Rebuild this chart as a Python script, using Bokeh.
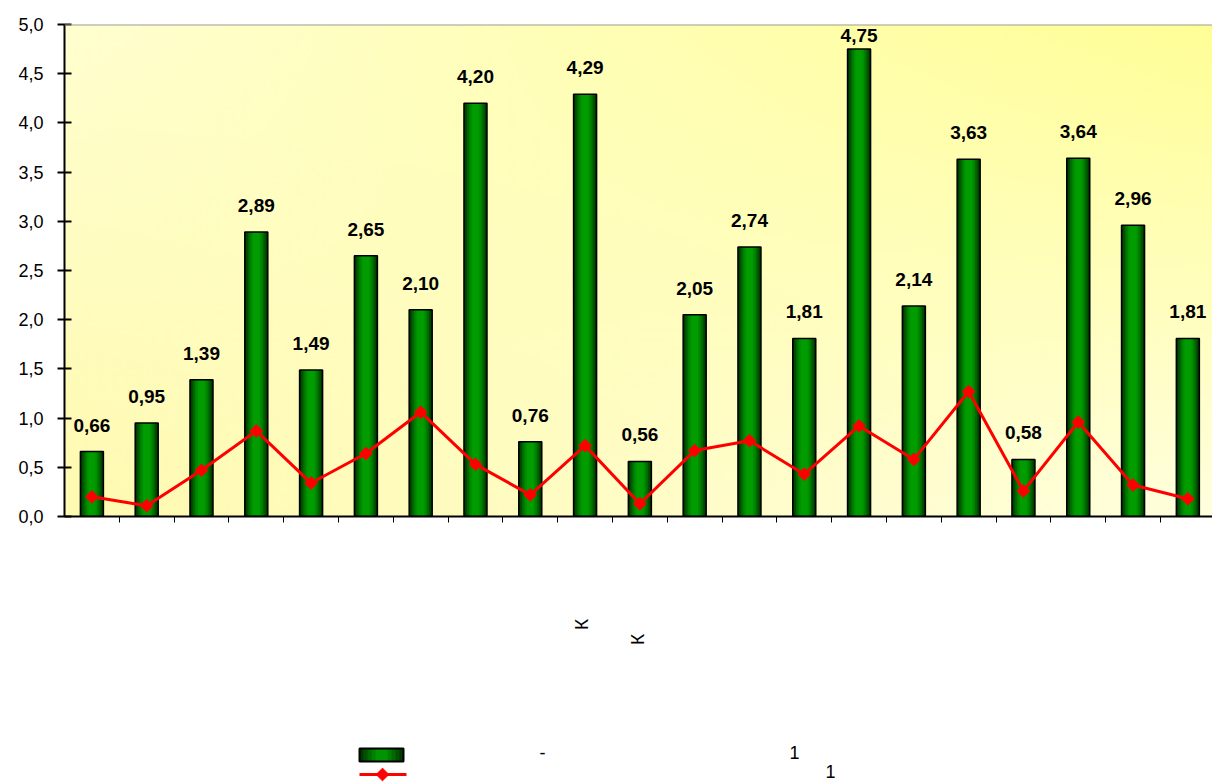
import numpy as np
from bokeh.plotting import figure
from bokeh.models import Range1d, FixedTicker, LabelSet, ColumnDataSource, CustomJSTickFormatter, Span
from bokeh.layouts import column
from bokeh.embed import file_html
from bokeh.resources import INLINE
from bokeh.core.properties import value

# ---- data ----
categories = [str(i) for i in range(1, 22)]
bar_values = [0.66, 0.95, 1.39, 2.89, 1.49, 2.65, 2.10, 4.20, 0.76, 4.29, 0.56,
              2.05, 2.74, 1.81, 4.75, 2.14, 3.63, 0.58, 3.64, 2.96, 1.81]
line_values = [0.20, 0.11, 0.47, 0.87, 0.34, 0.64, 1.06, 0.53, 0.22, 0.72, 0.13,
               0.67, 0.77, 0.43, 0.92, 0.58, 1.27, 0.26, 0.96, 0.32, 0.18]
bar_labels = [f"{v:.2f}".replace(".", ",") for v in bar_values]
y_ticks = [0.0, 0.5, 1.0, 1.5, 2.0, 2.5, 3.0, 3.5, 4.0, 4.5, 5.0]
y_tick_labels = ["0,0", "0,5", "1,0", "1,5", "2,0", "2,5", "3,0", "3,5", "4,0", "4,5", "5,0"]
axis_texts = ["К", "К"]
legend_texts = ["-", "1", "1"]

FONT = "Liberation Sans"
XMAX = 20.95
LABEL_CAP = 4.62  # labels of the tallest bars are kept inside the plot area

src = ColumnDataSource(dict(
    x=np.arange(len(categories)) + 0.5,
    top=bar_values,
    line=line_values,
    label=bar_labels,
    label_y=[min(b, LABEL_CAP) for b in bar_values],
))

p = figure(width=1212, height=560, x_range=Range1d(0, XMAX), y_range=Range1d(0, 5),
           output_backend="svg", toolbar_location=None,
           min_border_left=64, min_border_right=0, min_border_top=24, min_border_bottom=44)
p.xgrid.visible = False
p.ygrid.visible = False
p.outline_line_color = None
p.background_fill_color = "white"
p.border_fill_color = "white"

# background gradient
H, W = 246, 574
v = np.linspace(0, 1, H)[:, None]
u = np.linspace(0, 1, W)[None, :]
BL = np.array([255, 250, 176.0]); BR = np.array([255, 255, 222.0])
TL = np.array([255, 255, 208.0]); TR = np.array([255, 255, 150.0])
col = ((1 - u) * (1 - v))[..., None] * BL + (u * (1 - v))[..., None] * BR + \
      ((1 - u) * v)[..., None] * TL + (u * v)[..., None] * TR
img = np.empty((H, W), dtype=np.uint32)
view = img.view(dtype=np.uint8).reshape((H, W, 4))
view[:, :, :3] = np.clip(col, 0, 255).astype(np.uint8)
view[:, :, 3] = 255
p.image_rgba(image=[img], x=0, y=0, dw=XMAX, dh=5)

# bars with cylinder-like shading
BW = 0.42
fracs = [1.0, 0.86, 0.72, 0.58, 0.44, 0.3]
greens = ["#003600", "#004f00", "#006800", "#007e00", "#008f00", "#009c00"]
for f, c in zip(fracs, greens):
    p.vbar(x="x", top="top", bottom=0, width=BW * f, fill_color=c, line_color=None, source=src)
p.vbar(x="x", top="top", bottom=0, width=BW, fill_color=None, line_color="black",
       line_width=1.5, source=src)

# line
p.line("x", "line", color="#ff0000", line_width=3, source=src)
p.scatter("x", "line", marker="square", angle=np.pi / 4, size=9, color="#ff0000", source=src)

labels = LabelSet(x="x", y="label_y", text="label", source=src, text_align="center",
                  text_baseline="alphabetic", y_offset=20, text_font=value(FONT),
                  text_font_style="bold", text_font_size="19px", text_color="black")
p.add_layout(labels)

p.add_layout(Span(location=5, dimension="width", line_color="#9c9c9c", line_width=2))

# axes
p.xaxis.ticker = FixedTicker(ticks=list(range(1, len(categories))))
p.xaxis.formatter = CustomJSTickFormatter(code="return '';")
p.xaxis.major_tick_in = 0
p.xaxis.major_tick_out = 6
p.xaxis.major_tick_line_width = 1
p.xaxis.axis_line_width = 2
p.xaxis.minor_tick_line_color = None
p.xaxis.axis_line_color = "black"
p.xaxis.major_tick_line_color = "black"

p.yaxis.ticker = FixedTicker(ticks=y_ticks)
p.yaxis.formatter = CustomJSTickFormatter(args=dict(yt=y_ticks, yl=y_tick_labels), code="""
const i = yt.findIndex(t => Math.abs(t - tick) < 1e-9);
return i >= 0 ? yl[i] : '';
""")
p.yaxis.major_tick_in = 7
p.yaxis.major_tick_out = 7
p.yaxis.major_tick_line_width = 2
p.yaxis.axis_line_width = 2
p.yaxis.minor_tick_line_color = None
p.yaxis.axis_line_color = "black"
p.yaxis.major_tick_line_color = "black"
p.yaxis.major_label_text_font = FONT
p.yaxis.major_label_text_font_size = "18px"
p.yaxis.major_label_text_color = "black"
p.yaxis.major_label_standoff = 14

# lower panel: rotated category fragments and legend (x, -y in page pixels);
# its frame is aligned with the main frame (left edge at 64 px)
q = figure(width=1212, height=223, x_range=Range1d(64, 1212), y_range=Range1d(-783, -560),
           output_backend="svg", toolbar_location=None, x_axis_location=None,
           y_axis_location=None, min_border_left=64, min_border_right=0,
           min_border_top=0, min_border_bottom=0)
q.xgrid.visible = False
q.ygrid.visible = False
q.outline_line_color = None
q.background_fill_color = "white"
q.border_fill_color = "white"

q.text(x=[580.7, 636.7], y=[-624, -639], text=axis_texts, angle=np.pi / 2,
       text_align="center", text_baseline="middle", text_font=value(FONT),
       text_font_size="19px", text_color="black")

# legend swatch: bar
lw = [44, 36, 28, 20, 12]
lg = ["#003800", "#005200", "#006a00", "#008000", "#009400"]
for w_, c in zip(lw, lg):
    q.rect(x=[381], y=[-754.5], width=w_, height=13, fill_color=c, line_color=None)
q.rect(x=[381], y=[-754.5], width=44, height=13, fill_color=None, line_color="black", line_width=2)
# legend swatch: line
q.line(x=[359, 406], y=[-774, -774], color="#ff0000", line_width=3)
q.scatter(x=[382], y=[-774], marker="square", angle=np.pi / 4, size=9, color="#ff0000")

q.text(x=[542, 794, 830], y=[-752, -752, -771], text=legend_texts, text_align="center",
       text_baseline="middle", text_font=value(FONT), text_font_size="18px", text_color="black")

layout = column(p, q)
open("out.html", "w").write(file_html(layout, INLINE))
